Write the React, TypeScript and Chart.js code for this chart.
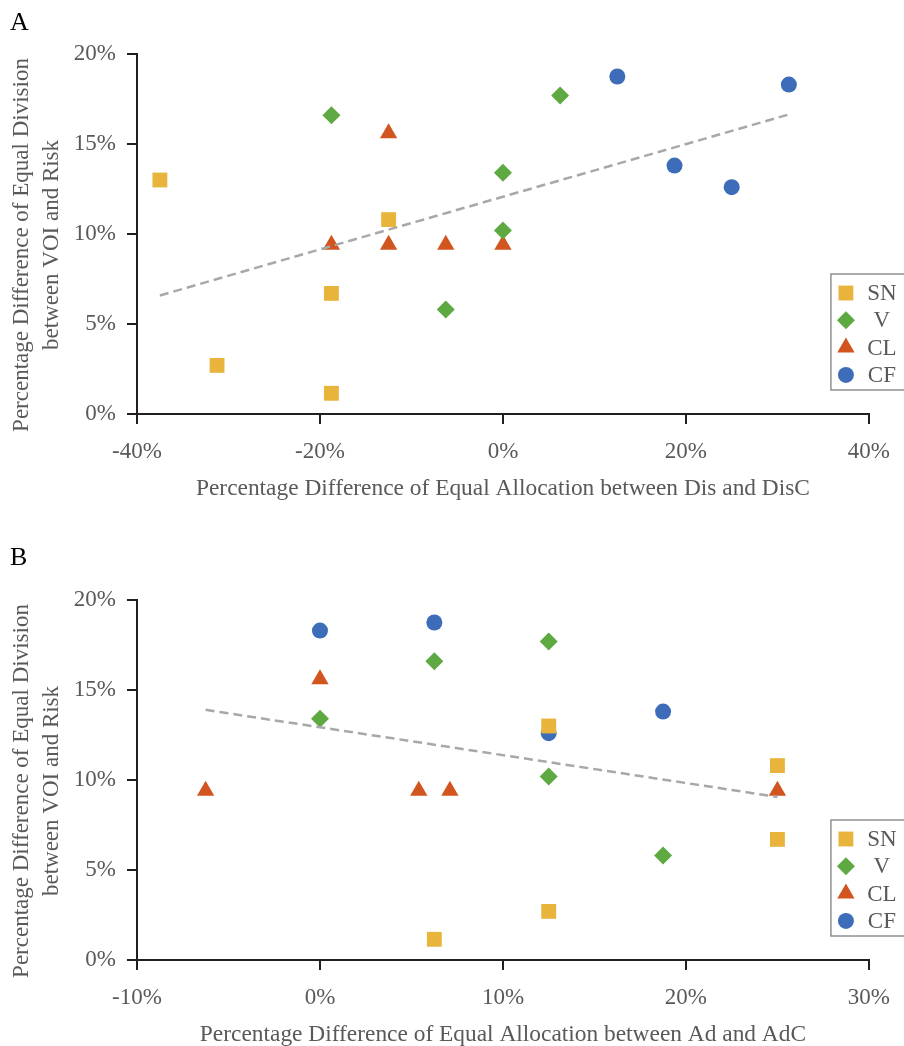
import React, { useEffect, useRef } from 'react';
import { Chart, registerables } from 'chart.js';

Chart.register(...registerables);

// ---- series meta ----
const SERIES = ['SN', 'V', 'CL', 'CF'];
const SERIES_COLORS = ['#E8B43C', '#5EA942', '#D2551F', '#3D6DB8'];
const SERIES_STYLES = ['rect', 'rectRot', 'triangle', 'circle'];
const SERIES_RADII = [10.5, 9, 10, 8];

// ---- panel A ----
const A_SN_X = [-37.5, -31.25, -18.75, -18.75, -12.5];
const A_SN_Y = [13.0, 2.7, 6.7, 1.15, 10.8];
const A_V_X = [-18.75, -6.25, 0, 0, 6.25];
const A_V_Y = [16.6, 5.8, 13.4, 10.2, 17.7];
const A_CL_X = [-18.75, -12.5, -12.5, -6.25, 0];
const A_CL_Y = [9.4, 15.6, 9.4, 9.4, 9.4];
const A_CF_X = [12.5, 31.25, 18.75, 25];
const A_CF_Y = [18.75, 18.3, 13.8, 12.6];
const A_X_TICKS = [-40, -20, 0, 20, 40];
const A_X_TITLE = 'Percentage Difference of Equal Allocation between Dis and DisC';

// ---- panel B ----
const B_SN_X = [6.25, 12.5, 12.5, 25, 25];
const B_SN_Y = [1.15, 13.0, 2.7, 10.8, 6.7];
const B_V_X = [0, 6.25, 12.5, 12.5, 18.75];
const B_V_Y = [13.4, 16.6, 17.7, 10.2, 5.8];
const B_CL_X = [-6.25, 0, 5.4, 7.1, 25];
const B_CL_Y = [9.4, 15.6, 9.4, 9.4, 9.4];
const B_CF_X = [0, 6.25, 12.5, 18.75];
const B_CF_Y = [18.3, 18.75, 12.6, 13.8];
const B_X_TICKS = [-10, 0, 10, 20, 30];
const B_X_TITLE = 'Percentage Difference of Equal Allocation between Ad and AdC';

// ---- shared ----
const Y_TICKS = [0, 5, 10, 15, 20];
const Y_TITLE = ['Percentage Difference of Equal Division', 'between VOI and Risk'];

const FONT = "'Liberation Serif', 'Times New Roman', serif";
const TEXT_GRAY = '#595959';
const AXIS_COLOR = '#231F20';

function zip(xs: number[], ys: number[]) {
  return xs.map((x, i) => ({ x, y: ys[i] }));
}

function trend(points: { x: number; y: number }[]) {
  const n = points.length;
  const mx = points.reduce((s, p) => s + p.x, 0) / n;
  const my = points.reduce((s, p) => s + p.y, 0) / n;
  let sxy = 0, sxx = 0;
  points.forEach((p) => { sxy += (p.x - mx) * (p.y - my); sxx += (p.x - mx) ** 2; });
  const b = sxy / sxx;
  const a = my - b * mx;
  const xmin = Math.min(...points.map((p) => p.x));
  const xmax = Math.max(...points.map((p) => p.x));
  return [{ x: xmin, y: a + b * xmin }, { x: xmax, y: a + b * xmax }];
}

function drawShape(ctx: CanvasRenderingContext2D, style: string, x: number, y: number, r: number) {
  ctx.beginPath();
  if (style === 'rect') {
    const s = Math.SQRT1_2 * r;
    ctx.rect(x - s, y - s, 2 * s, 2 * s);
  } else if (style === 'rectRot') {
    ctx.moveTo(x - r, y); ctx.lineTo(x, y - r); ctx.lineTo(x + r, y); ctx.lineTo(x, y + r); ctx.closePath();
  } else if (style === 'triangle') {
    let rad = 0;
    ctx.moveTo(x + Math.sin(rad) * r, y - Math.cos(rad) * r);
    rad += (2 * Math.PI) / 3;
    ctx.lineTo(x + Math.sin(rad) * r, y - Math.cos(rad) * r);
    rad += (2 * Math.PI) / 3;
    ctx.lineTo(x + Math.sin(rad) * r, y - Math.cos(rad) * r);
    ctx.closePath();
  } else {
    ctx.arc(x, y, r, 0, Math.PI * 2);
  }
  ctx.fill();
}

const decorPlugin = {
  id: 'decor',
  afterDraw(chart: any, _args: any, opts: any) {
    const { ctx, chartArea } = chart;
    ctx.save();
    // panel letter
    ctx.fillStyle = '#000';
    ctx.font = `26px ${FONT}`;
    ctx.textAlign = 'left';
    ctx.textBaseline = 'alphabetic';
    ctx.fillText(opts.letter, 10, opts.letterY);
    // y title
    ctx.fillStyle = TEXT_GRAY;
    ctx.font = `23px ${FONT}`;
    ctx.textAlign = 'center';
    ctx.textBaseline = 'middle';
    const cy = (chartArea.top + chartArea.bottom) / 2 + 11;
    ctx.translate(22, cy);
    ctx.rotate(-Math.PI / 2);
    Y_TITLE.forEach((line, i) => ctx.fillText(line, 0, i * 30));
    ctx.restore();

    // legend
    ctx.save();
    const bx = chartArea.right - 38;
    const by = chartArea.top + 220;
    ctx.strokeStyle = '#7F7F7F';
    ctx.lineWidth = 1.3;
    ctx.strokeRect(bx, by, chart.width - bx + 20, 116);
    ctx.font = `23px ${FONT}`;
    ctx.textAlign = 'center';
    ctx.textBaseline = 'middle';
    const items = chart.data.datasets.filter((d: any) => SERIES.includes(d.label));
    items.forEach((d: any, i: number) => {
      const iy = by + 19 + i * 27.3;
      ctx.fillStyle = d.backgroundColor;
      drawShape(ctx, d.pointStyle, bx + 15, iy, d.pointRadius);
      ctx.fillStyle = TEXT_GRAY;
      ctx.fillText(d.label, bx + 51, iy + 1);
    });
    ctx.restore();
  },
};

function makeConfig(
  xs: number[][], ys: number[][], xTicks: number[], xTitle: string,
  letter: string, letterY: number, padBottom: number
) {
  const seriesData = xs.map((x, i) => zip(x, ys[i]));
  const all = seriesData.flat();
  const datasets: any[] = [
    {
      label: 'trend',
      data: trend(all),
      showLine: true,
      borderColor: '#A8A8A8',
      borderWidth: 2.5,
      borderDash: [9, 5],
      pointRadius: 0,
      fill: false,
    },
    ...SERIES.map((label, i) => ({
      label,
      data: seriesData[i],
      backgroundColor: SERIES_COLORS[i],
      borderColor: SERIES_COLORS[i],
      borderWidth: 0,
      pointStyle: SERIES_STYLES[i],
      pointRadius: SERIES_RADII[i],
      pointHoverRadius: SERIES_RADII[i],
    })),
  ];
  return {
    type: 'scatter',
    data: { datasets },
    plugins: [decorPlugin],
    options: {
      animation: false,
      responsive: false,
      events: [],
      layout: { padding: { left: 0, right: 32, top: 54, bottom: padBottom } },
      plugins: {
        legend: { display: false },
        tooltip: { enabled: false },
        decor: { letter, letterY },
      },
      scales: {
        x: {
          type: 'linear',
          min: xTicks[0],
          max: xTicks[xTicks.length - 1],
          afterBuildTicks: (scale: any) => { scale.ticks = xTicks.map((v) => ({ value: v })); },
          afterFit: (scale: any) => { scale.height = 89; },
          border: { display: true, color: AXIS_COLOR, width: 2 },
          grid: { display: true, drawOnChartArea: false, drawTicks: true, tickLength: 10, color: AXIS_COLOR, lineWidth: 2 },
          ticks: {
            color: TEXT_GRAY,
            padding: 14,
            font: { family: FONT, size: 23 },
            callback: (v: any) => `${v}%`,
            maxRotation: 0,
          },
          title: {
            display: true,
            text: xTitle,
            color: TEXT_GRAY,
            font: { family: FONT, size: 23.4 },
            padding: { top: 0, bottom: 0 },
          },
        },
        y: {
          type: 'linear',
          min: Y_TICKS[0],
          max: Y_TICKS[Y_TICKS.length - 1],
          afterBuildTicks: (scale: any) => { scale.ticks = Y_TICKS.map((v) => ({ value: v })); },
          afterFit: (scale: any) => { scale.width = 137; },
          border: { display: true, color: AXIS_COLOR, width: 2 },
          grid: { display: true, drawOnChartArea: false, drawTicks: true, tickLength: 10, color: AXIS_COLOR, lineWidth: 2 },
          ticks: {
            color: TEXT_GRAY,
            padding: 11,
            font: { family: FONT, size: 23 },
            callback: (v: any) => `${v}%`,
          },
        },
      },
    },
  };
}

function Panel({ make, width, height }: { make: () => any; width: number; height: number }) {
  const ref = useRef<HTMLCanvasElement>(null);
  useEffect(() => {
    const chart = new Chart(ref.current as HTMLCanvasElement, make());
    return () => chart.destroy();
  }, []);
  return <canvas ref={ref} width={width} height={height} style={{ display: 'block', width, height }} />;
}

export default function App() {
  useEffect(() => {
    document.body.style.margin = '0';
    document.body.style.background = '#fff';
  }, []);
  return (
    <div style={{ width: 904, height: 1046, background: '#fff', overflow: 'hidden' }}>
      <Panel
        width={904}
        height={546}
        make={() => makeConfig(
          [A_SN_X, A_V_X, A_CL_X, A_CF_X], [A_SN_Y, A_V_Y, A_CL_Y, A_CF_Y],
          A_X_TICKS, A_X_TITLE, 'A', 30, 43)}
      />
      <Panel
        width={904}
        height={503}
        make={() => makeConfig(
          [B_SN_X, B_V_X, B_CL_X, B_CF_X], [B_SN_Y, B_V_Y, B_CL_Y, B_CF_Y],
          B_X_TICKS, B_X_TITLE, 'B', 19, 0)}
      />
    </div>
  );
}
